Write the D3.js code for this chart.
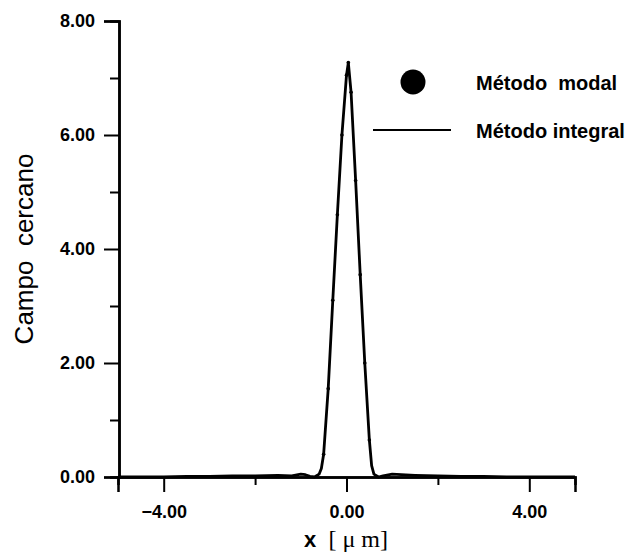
<!DOCTYPE html>
<html>
<head>
<meta charset="utf-8">
<script src="https://cdn.jsdelivr.net/npm/d3@7"></script>
<style>
  body { margin: 0; background: #fff; }
  text { font-family: "Liberation Sans", Arial, sans-serif; fill: #000; }
</style>
</head>
<body>
<script>
// data
var xValues = [-5.0, -4.5, -4.0, -3.5, -3.0, -2.5, -2.0, -1.5, -1.2, -1.0, -0.9, -0.8, -0.7, -0.6,
               -0.55, -0.5, -0.4, -0.3, -0.2, -0.1, 0.0, 0.04, 0.1, 0.2, 0.3, 0.4, 0.5, 0.55,
               0.6, 0.7, 0.8, 1.0, 1.2, 1.5, 2.0, 2.5, 3.0, 3.5, 4.0, 4.5, 5.0];
var integralValues = [0.0, 0.0, 0.0, 0.01, 0.01, 0.02, 0.02, 0.03, 0.02, 0.05, 0.04, 0.01, 0.0, 0.05,
                      0.15, 0.4, 1.55, 3.1, 4.6, 6.0, 7.05, 7.27, 6.75, 5.2, 3.55, 2.0, 0.65, 0.2,
                      0.05, 0.0, 0.02, 0.05, 0.04, 0.03, 0.02, 0.01, 0.01, 0.0, 0.0, 0.0, 0.0];
var modalX = [-0.5, -0.4, -0.3, -0.2, -0.1, 0.0, 0.04, 0.1, 0.2, 0.3, 0.4, 0.5];
var modalValues = [0.4, 1.55, 3.1, 4.6, 6.0, 7.05, 7.27, 6.75, 5.2, 3.55, 2.0, 0.65];
var xTicks = [-4, 0, 4];
var xMinor = [-2, 2];
var yTicks = [0, 2, 4, 6, 8];
var yMinor = [1, 3, 5, 7];
var legendLabels = ["Método  modal", "Método integral"];

var svg = d3.select("body")
    .append("svg")
    .attr("width", 633)
    .attr("height", 554);

var x = d3.scaleLinear()
    .domain([-5, 5])
    .range([118, 575]);

var y = d3.scaleLinear()
    .domain([0, 8])
    .range([477, 21]);

var fmt = d3.format(".2f");

// y axis
svg.append("g")
    .attr("transform", "translate(119,0)")
    .call(d3.axisLeft(y).tickValues(yTicks).tickSize(15).tickPadding(9).tickFormat(fmt));
svg.append("g")
    .attr("transform", "translate(119,0)")
    .call(d3.axisLeft(y).tickValues(yMinor).tickSize(9).tickFormat(""));

// x axis
svg.append("g")
    .attr("transform", "translate(0,477)")
    .call(d3.axisBottom(x).tickValues(xTicks).tickSize(15).tickPadding(13).tickFormat(fmt));
svg.append("g")
    .attr("transform", "translate(0,477)")
    .call(d3.axisBottom(x).tickValues(xMinor).tickSize(8).tickFormat(""));

svg.selectAll(".domain")
    .attr("stroke", "#000")
    .attr("stroke-width", 2.5);
svg.selectAll(".tick line")
    .attr("stroke", "#000")
    .attr("stroke-width", 2);
svg.selectAll(".tick text")
    .style("font-family", "'Liberation Sans', Arial, sans-serif")
    .style("font-size", "18px")
    .style("font-weight", "bold")
    .attr("fill", "#000");

// curve (integral method)
var line = d3.line()
    .x(function(d){ return x(d[0]); })
    .y(function(d){ return y(d[1]); });

svg.append("path")
    .datum(d3.zip(xValues, integralValues))
    .attr("d", line)
    .attr("fill", "none")
    .attr("stroke", "#000")
    .attr("stroke-width", 2.8)
    .attr("stroke-linejoin", "round");

// points (modal method)
svg.selectAll(".modal")
    .data(d3.zip(modalX, modalValues))
    .enter()
    .append("circle")
    .attr("class", "modal")
    .attr("cx", function(d){ return x(d[0]); })
    .attr("cy", function(d){ return y(d[1]); })
    .attr("r", 1.8)
    .attr("fill", "#000");

// legend
svg.append("circle")
    .attr("cx", 413)
    .attr("cy", 82)
    .attr("r", 12.5)
    .attr("fill", "#000");
svg.append("line")
    .attr("x1", 373)
    .attr("x2", 451)
    .attr("y1", 130)
    .attr("y2", 130)
    .attr("stroke", "#000")
    .attr("stroke-width", 2);
svg.selectAll(".legtext")
    .data(legendLabels)
    .enter()
    .append("text")
    .attr("class", "legtext")
    .attr("x", 476)
    .attr("y", function(d, i){ return 90 + i * 48; })
    .style("font-size", "20px")
    .style("font-weight", "bold")
    .style("white-space", "pre")
    .text(function(d){ return d; });

// axis titles
svg.append("text")
    .attr("transform", "translate(33,249) rotate(-90)")
    .attr("text-anchor", "middle")
    .style("font-size", "26px")
    .style("white-space", "pre")
    .text("Campo  cercano");

var xt = svg.append("text")
    .attr("x", 346)
    .attr("y", 547)
    .attr("text-anchor", "middle")
    .style("white-space", "pre");
xt.append("tspan")
    .style("font-weight", "bold")
    .style("font-size", "22px")
    .text("x  ");
xt.append("tspan")
    .style("font-family", "'Liberation Serif', 'Times New Roman', serif")
    .style("font-size", "24px")
    .text("[ μ m]");
</script>
</body>
</html>
